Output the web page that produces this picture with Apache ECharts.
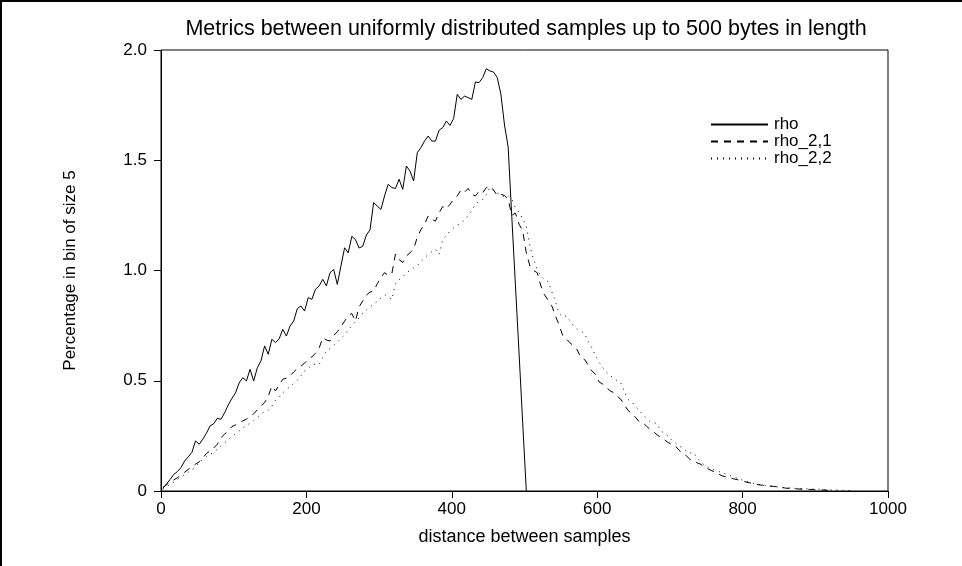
<!DOCTYPE html>
<html>
<head>
<meta charset="utf-8">
<script src="https://cdn.jsdelivr.net/npm/echarts@6/dist/echarts.min.js"></script>
<style>
html,body{margin:0;padding:0;background:#fff;}
#chart{width:962px;height:566px;}
</style>
</head>
<body>
<div id="chart"></div>
<script>
// Bin centres (bins of size 5)
var binStart = 2.5;
var binSize = 5;

var rho = [0.012,0.032,0.052,0.075,0.088,0.106,0.136,0.155,0.175,0.227,
0.212,0.235,0.262,0.295,0.305,0.33,0.325,0.355,0.39,0.42,
0.445,0.49,0.514,0.499,0.552,0.499,0.559,0.59,0.658,0.62,
0.688,0.673,0.69,0.733,0.703,0.748,0.771,0.827,0.839,0.816,
0.877,0.869,0.915,0.93,0.96,0.93,0.99,1.005,0.937,1.02,
1.103,1.08,1.155,1.14,1.102,1.11,1.161,1.184,1.308,1.292,
1.277,1.338,1.391,1.376,1.372,1.414,1.368,1.474,1.451,1.406,
1.534,1.557,1.587,1.61,1.587,1.587,1.636,1.648,1.678,1.658,
1.689,1.799,1.776,1.791,1.784,1.776,1.855,1.852,1.875,1.915,
1.905,1.9,1.875,1.8,1.66,1.56,1.245,0.935,0.625,0.31,0.0];

var rho21 = [0.015,0.028,0.040,0.050,0.060,0.072,0.085,0.098,0.108,0.122,
0.132,0.150,0.170,0.182,0.195,0.212,0.242,0.258,0.272,0.292,
0.300,0.310,0.318,0.326,0.338,0.350,0.368,0.385,0.401,0.430,
0.476,0.454,0.480,0.507,0.512,0.522,0.540,0.555,0.566,0.580,
0.597,0.608,0.625,0.648,0.695,0.685,0.680,0.705,0.722,0.745,
0.770,0.795,0.805,0.771,0.835,0.862,0.888,0.902,0.907,0.940,
0.968,0.990,0.978,0.985,1.075,1.050,1.036,1.066,1.080,1.098,
1.150,1.185,1.210,1.247,1.232,1.224,1.262,1.290,1.280,1.300,
1.323,1.338,1.365,1.355,1.372,1.345,1.338,1.360,1.352,1.376,
1.383,1.365,1.340,1.346,1.340,1.323,1.25,1.26,1.21,1.18,
1.08,1.02,1.00,0.99,0.93,0.89,0.865,0.84,0.794,0.755,
0.705,0.69,0.672,0.658,0.640,0.605,0.597,0.572,0.545,0.530,
0.495,0.485,0.470,0.455,0.446,0.430,0.416,0.39,0.365,0.352,
0.335,0.315,0.310,0.295,0.280,0.268,0.255,0.242,0.232,0.220,
0.212,0.204,0.185,0.170,0.160,0.144,0.136,0.128,0.121,0.110,
0.100,0.092,0.085,0.076,0.068,0.064,0.060,0.055,0.052,0.047,
0.043,0.038,0.036,0.032,0.028,0.026,0.024,0.022,0.021,0.019,
0.016,0.014,0.012,0.011,0.010,0.009,0.008,0.008,0.007,0.006,
0.005,0.005,0.004,0.003];

var rho22 = [0.008,0.018,0.030,0.040,0.052,0.064,0.074,0.085,0.096,0.110,
0.128,0.144,0.155,0.166,0.176,0.190,0.205,0.218,0.232,0.248,
0.258,0.272,0.287,0.296,0.308,0.320,0.334,0.348,0.360,0.366,
0.385,0.412,0.425,0.445,0.461,0.472,0.488,0.502,0.522,0.545,
0.556,0.572,0.576,0.574,0.605,0.635,0.645,0.660,0.675,0.692,
0.708,0.730,0.750,0.768,0.785,0.806,0.820,0.835,0.848,0.860,
0.875,0.890,0.880,0.869,0.940,0.958,0.972,0.990,1.000,1.012,
1.022,1.040,1.058,1.072,1.085,1.096,1.073,1.138,1.160,1.178,
1.194,1.205,1.215,1.228,1.250,1.270,1.300,1.315,1.322,1.345,
1.376,1.362,1.352,1.340,1.336,1.340,1.325,1.285,1.262,1.235,
1.200,1.111,1.050,1.005,0.975,0.958,0.950,0.905,0.860,0.805,
0.790,0.794,0.772,0.748,0.735,0.725,0.715,0.680,0.650,0.615,
0.585,0.560,0.540,0.525,0.512,0.500,0.490,0.450,0.415,0.405,
0.385,0.365,0.348,0.330,0.315,0.310,0.305,0.272,0.262,0.250,
0.230,0.218,0.205,0.195,0.180,0.172,0.175,0.150,0.130,0.118,
0.108,0.100,0.094,0.088,0.082,0.076,0.070,0.064,0.058,0.052,
0.046,0.042,0.037,0.033,0.030,0.027,0.025,0.023,0.021,0.019,
0.017,0.016,0.015,0.014,0.012,0.011,0.011,0.010,0.009,0.009,
0.008,0.007,0.006,0.006,0.005,0.005,0.004,0.003,0.003,0.002];

var seriesNames = ['rho', 'rho_2,1', 'rho_2,2'];
var xTicks = [0, 200, 400, 600, 800, 1000];
var yTicks = [0, 0.5, 1.0, 1.5, 2.0];

function toPairs(arr) {
  return arr.map(function (v, i) { return [binStart + i * binSize, v]; });
}

var chart = echarts.init(document.getElementById('chart'), null, {renderer: 'canvas'});
var fontFam = 'Liberation Sans, Arial, sans-serif';

var option = {
  animation: false,
  backgroundColor: '#ffffff',
  title: {
    text: 'Metrics between uniformly distributed samples up to 500 bytes in length',
    left: 521, top: 13, textAlign: 'center',
    textStyle: {fontFamily: fontFam, fontSize: 21.5, fontWeight: 'normal', color: '#000'}
  },
  legend: {
    orient: 'vertical',
    left: 705, top: 111,
    itemWidth: 57, itemHeight: 14, itemGap: 0,
    data: seriesNames,
    itemStyle: {opacity: 0},
    textStyle: {fontFamily: fontFam, fontSize: 17, lineHeight: 17, color: '#000', padding: [0, 0, 0, 1]}
  },
  grid: {
    left: 161, top: 50, width: 727, height: 441,
    show: true, borderColor: '#000', borderWidth: 1, backgroundColor: 'transparent'
  },
  xAxis: {
    type: 'value', min: 0, max: 1000, interval: 200,
    name: 'distance between samples', nameLocation: 'middle', nameGap: 37,
    nameTextStyle: {fontFamily: fontFam, fontSize: 18, color: '#000'},
    axisLine: {show: true, lineStyle: {color: '#000', width: 1}},
    axisTick: {show: true, inside: false, length: 7, lineStyle: {color: '#000'}},
    axisLabel: {fontFamily: fontFam, fontSize: 17, color: '#000', margin: 10,
      formatter: function (v) { return xTicks.indexOf(v) >= 0 ? String(v) : ''; }},
    splitLine: {show: false}
  },
  yAxis: {
    type: 'value', min: 0, max: 2, interval: 0.5,
    name: 'Percentage in bin of size 5', nameLocation: 'middle', nameGap: 82,
    nameTextStyle: {fontFamily: fontFam, fontSize: 17, color: '#000'},
    axisLine: {show: true, lineStyle: {color: '#000', width: 1}},
    axisTick: {show: true, inside: false, length: 7, lineStyle: {color: '#000'}},
    axisLabel: {fontFamily: fontFam, fontSize: 17, color: '#000', margin: 14,
      formatter: function (v) { return v === 0 ? '0' : v.toFixed(1); }},
    splitLine: {show: false}
  },
  series: [
    {name: seriesNames[0], type: 'line', data: toPairs(rho), symbol: 'none',
     lineStyle: {color: '#000', width: 1, type: 'solid'}, itemStyle: {color: '#000'}},
    {name: seriesNames[1], type: 'line', data: toPairs(rho21), symbol: 'none',
     lineStyle: {color: '#000', width: 1, type: [7, 6]}, itemStyle: {color: '#000'}},
    {name: seriesNames[2], type: 'line', data: toPairs(rho22), symbol: 'none',
     lineStyle: {color: '#000', width: 1, type: [1, 5]}, itemStyle: {color: '#000'}}
  ],
  graphic: [
    {type: 'rect', shape: {x: 0, y: 0, width: 962, height: 2}, style: {fill: '#000'}, silent: true},
    {type: 'rect', shape: {x: 0, y: 0, width: 2, height: 566}, style: {fill: '#000'}, silent: true}
  ]
};
chart.setOption(option);
</script>
</body>
</html>
